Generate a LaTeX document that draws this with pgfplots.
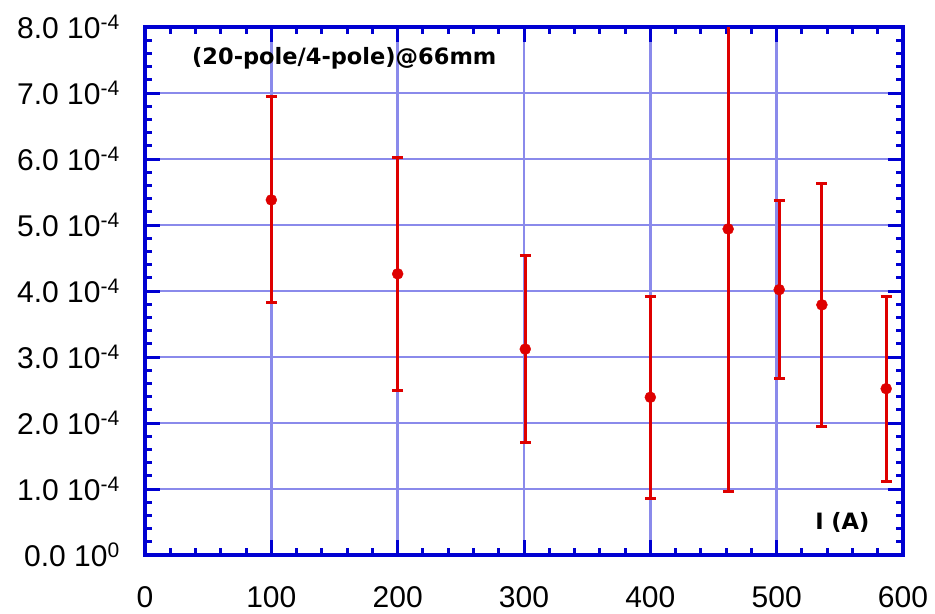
\documentclass[border=0pt]{standalone}
\usepackage{fontspec}
\setmainfont{Liberation Sans}
\newfontfamily\labfont{DejaVu Sans}
\usepackage{pgfplots}
\pgfplotsset{compat=1.18}
\definecolor{axblue}{RGB}{0,0,210}
\definecolor{gridc}{RGB}{138,138,235}
\definecolor{ptred}{RGB}{222,0,0}

\begin{document}
\begin{tikzpicture}
\begin{axis}[
  at={(145bp,59bp)}, anchor=south west,
  scale only axis,
  width=758bp, height=528bp,
  xmin=0, xmax=600,
  ymin=0, ymax=8e-4,
  xtick={0,100,...,600},
  ytick={0,1e-4,2e-4,3e-4,4e-4,5e-4,6e-4,7e-4,8e-4},
  xticklabels={0,100,200,300,400,500,600},
  yticklabels={0.0\ 10\textsuperscript{0},1.0\ 10\textsuperscript{-4},2.0\ 10\textsuperscript{-4},3.0\ 10\textsuperscript{-4},4.0\ 10\textsuperscript{-4},5.0\ 10\textsuperscript{-4},6.0\ 10\textsuperscript{-4},7.0\ 10\textsuperscript{-4},8.0\ 10\textsuperscript{-4}},
  scaled y ticks=false,
  minor x tick num=4,
  minor y tick num=4,
  tick align=inside,
  xtick pos=both, ytick pos=both,
  major tick length=15bp,
  minor tick length=7bp,
  tick style={axblue, line width=3bp},
  axis line style={axblue, line width=3.2bp},
  grid=major,
  major grid style={gridc, line width=2.8bp},
  ticklabel style={font=\fontsize{30bp}{36bp}\selectfont, text=black},
  xticklabel style={anchor=north, inner sep=0pt, yshift=-31bp},
  yticklabel style={anchor=east, inner sep=0pt, xshift=-25bp},
]
  \addplot[
    only marks,
    mark=*, mark size=5.5bp,
    mark options={ptred, draw=ptred, fill=ptred},
    error bars/.cd,
      y dir=both, y explicit,
      error bar style={ptred, line width=3bp},
      error mark options={rotate=90, mark size=5.5bp, ptred, line width=3bp},
  ] coordinates {
    (100,5.38e-4) +- (0,1.56e-4)
    (200,4.26e-4) +- (0,1.76e-4)
    (301,3.12e-4) +- (0,1.42e-4)
    (400,2.39e-4) +- (0,1.53e-4)
    (461.6,4.94e-4) +- (0,3.98e-4)
    (502,4.02e-4) +- (0,1.35e-4)
    (535.8,3.79e-4) +- (0,1.84e-4)
    (586.7,2.52e-4) +- (0,1.40e-4)
  };
  \node[anchor=west, inner sep=0pt, font=\labfont\bfseries\fontsize{22.5bp}{27bp}\selectfont]
    at (rel axis cs:0.062,0.941) {(20-pole/4-pole)@66mm};
  \node[anchor=east, inner sep=0pt, font=\labfont\bfseries\fontsize{22.5bp}{27bp}\selectfont]
    at (rel axis cs:0.956,0.061) {I (A)};
\end{axis}
\pgfresetboundingbox
\path[use as bounding box] (0,0) rectangle (935bp,614bp);
\end{tikzpicture}
\end{document}
